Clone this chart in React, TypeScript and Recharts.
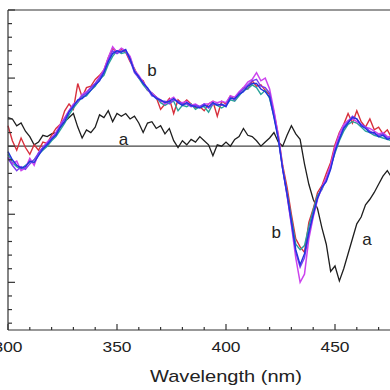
import React from "react";
import { LineChart, Line, XAxis, YAxis, ReferenceLine, ReferenceDot } from "recharts";

// wavelength grid, 300..480 nm every 2 nm
const wavelengths = Array.from({ length: 91 }, (_, i) => 300 + i * 2);

// curve a (black)
const curveA = [
  2.1, 2.0, 1.5, 1.7, 1.1, 0.7, 0.1, 0.3, 0.8, 0.7,
  0.9, 1.0, 1.4, 1.8, 2.1, 2.4, 1.4, 0.6, 1.2, 1.0,
  1.4, 2.3, 2.1, 2.6, 1.8, 2.4, 2.2, 2.4, 2.0, 2.2,
  1.7, 1.0, 1.7, 1.8, 1.3, 1.5, 0.9, 1.3, 0.4, -0.1,
  0.4, 0.1, 0.5, 0.3, 0.7, 0.4, 0.1, -0.7, 0.1, 0.0,
  0.3, 0.0, 0.5, 0.7, 1.3, 0.8, 0.7, 0.4, 0.0, 0.3,
  0.6, 1.0, 0.3, 0.0, 0.8, 1.5, 0.9, 0.5, -1.3, -2.8,
  -3.9, -4.6, -6.0, -7.2, -9.2, -8.8, -9.9, -9.0, -7.9, -6.8,
  -5.7, -5.2, -4.3, -3.9, -3.4, -2.8, -2.2, -1.8, -2.3, -1.9, -1.6,
];

// curve b, repeated runs
const curveBRed = [
  1.5, 0.4, -0.3, 0.6, -0.1, -0.6, 0.1, -0.3, 0.3, 0.2,
  0.8, 1.3, 1.6, 2.6, 3.1, 2.7, 4.6, 3.6, 4.3, 4.4,
  4.9, 5.2, 5.6, 6.5, 7.2, 6.9, 7.1, 6.9, 6.2, 5.7,
  5.0, 4.8, 4.1, 3.9, 3.6, 2.7, 3.1, 3.5, 2.4, 3.4,
  3.1, 3.4, 3.1, 2.8, 2.9, 2.6, 3.1, 3.3, 2.2, 3.3,
  3.1, 3.7, 3.4, 3.9, 4.3, 4.2, 4.8, 4.4, 4.5, 4.1,
  3.8, 2.5, 0.8, -1.4, -3.0, -5.0, -6.8, -7.4, -7.8, -5.6,
  -4.6, -3.4, -2.9, -2.0, -1.2, 0.1, 1.0, 1.6, 2.4, 1.7,
  2.6, 1.8, 1.4, 2.0, 1.2, 1.4, 0.9, 1.2, 0.6, 0.9, 0.7,
];
const curveBTeal = [
  -0.6, -1.2, -1.5, -1.7, -1.4, -1.2, -1.0, -0.6, -0.3, 0.0,
  0.4, 0.7, 1.2, 1.7, 2.3, 2.8, 3.2, 3.6, 3.7, 4.1,
  4.4, 4.9, 5.2, 6.0, 6.6, 7.0, 6.8, 6.9, 6.5, 5.6,
  5.0, 4.5, 4.1, 3.9, 3.6, 3.2, 3.0, 3.2, 3.3, 2.6,
  3.0, 2.9, 3.1, 2.7, 2.9, 2.9, 2.5, 3.1, 3.0, 2.8,
  3.0, 3.4, 3.3, 3.7, 4.1, 4.2, 4.5, 4.3, 3.8, 4.1,
  3.5, 2.2, 0.6, -1.6, -3.4, -5.3, -7.2, -7.6, -7.3, -5.9,
  -4.7, -3.6, -3.2, -2.4, -1.5, -0.5, 0.4, 1.1, 1.6, 1.8,
  1.7, 1.4, 1.1, 1.0, 0.8, 0.7, 0.6, 0.5, 0.4, 0.4, 0.3,
];
const curveBMagenta = [
  -0.8, -1.3, -1.1, -1.8, -1.6, -0.9, -1.4, -0.5, -0.1, 0.3,
  0.6, 1.0, 1.6, 2.1, 2.6, 3.1, 3.3, 3.8, 4.0, 4.3,
  4.6, 5.1, 5.6, 6.5, 7.3, 6.9, 7.2, 7.0, 6.6, 5.6,
  5.2, 4.7, 4.2, 3.9, 3.6, 3.4, 3.1, 3.4, 3.6, 3.2,
  3.2, 3.3, 3.0, 3.1, 2.9, 3.1, 3.1, 3.3, 3.2, 3.3,
  3.2, 3.7, 3.6, 4.0, 4.3, 4.7, 4.9, 5.4, 4.8, 5.0,
  4.2, 2.6, 0.8, -1.6, -3.6, -5.8, -8.2, -10.0, -9.4, -6.8,
  -5.2, -3.9, -3.0, -2.3, -1.4, -0.1, 0.9, 1.6, 1.9, 2.0,
  1.8, 1.6, 1.4, 1.3, 1.1, 0.9, 1.0, 0.7, 0.7, 0.5, 0.6,
];
const curveBViolet = [
  -0.9, -1.4, -1.8, -1.5, -1.7, -1.3, -1.0, -0.5, -0.1, 0.2,
  0.6, 0.9, 1.5, 2.0, 2.6, 3.0, 3.3, 3.7, 3.9, 4.3,
  4.6, 5.0, 5.5, 6.3, 7.0, 6.8, 7.0, 7.0, 6.3, 5.4,
  5.0, 4.7, 4.2, 3.7, 3.6, 3.3, 3.3, 3.1, 3.4, 3.3,
  3.1, 3.1, 2.9, 3.0, 2.9, 3.1, 2.8, 3.1, 3.1, 3.0,
  3.0, 3.6, 3.4, 3.9, 4.2, 4.5, 4.8, 4.9, 4.4, 4.3,
  3.9, 2.3, 0.6, -1.7, -3.6, -5.7, -7.8, -8.9, -8.2, -6.5,
  -5.1, -3.8, -3.1, -2.5, -1.6, -0.3, 0.6, 1.4, 1.8, 2.2,
  2.0, 1.6, 1.4, 1.1, 0.9, 0.8, 0.9, 0.6, 0.6, 0.5, 0.5,
];
const curveBBlue = [
  -0.4, -1.0, -1.4, -1.6, -1.5, -1.1, -1.2, -0.7, -0.2, 0.1,
  0.5, 0.8, 1.4, 1.8, 2.5, 2.9, 3.4, 3.5, 3.8, 4.1,
  4.5, 4.8, 5.4, 6.2, 6.8, 7.0, 6.9, 7.1, 6.4, 5.5,
  5.1, 4.6, 4.3, 3.8, 3.5, 3.4, 3.2, 3.3, 3.5, 3.2,
  3.0, 3.2, 3.0, 2.9, 2.8, 3.0, 2.9, 3.2, 3.0, 3.1,
  2.9, 3.5, 3.5, 3.8, 4.0, 4.4, 4.6, 4.6, 4.2, 4.0,
  3.6, 2.1, 0.5, -1.7, -3.5, -5.5, -7.6, -8.7, -7.9, -6.3,
  -5.0, -3.8, -3.0, -2.6, -1.7, -0.4, 0.5, 1.3, 1.7, 2.1,
  2.0, 1.5, 1.3, 1.0, 1.0, 0.7, 0.8, 0.5, 0.6, 0.4, 0.5,
];

const xTicks = Array.from({ length: 21 }, (_, i) => 300 + i * 10);
const xLabelled = [300, 350, 400, 450];
const yTicks = Array.from({ length: 24 }, (_, i) => -13 + i);

const data = wavelengths.map((w, i) => ({
  w,
  a: curveA[i],
  red: curveBRed[i],
  teal: curveBTeal[i],
  magenta: curveBMagenta[i],
  violet: curveBViolet[i],
  blue: curveBBlue[i],
}));

const FONT = "'Liberation Sans', Arial, sans-serif";
const AXIS = "#333";

function XTick(props: any) {
  const { x, y, payload } = props;
  const major = payload.value % 50 === 0;
  return (
    <g>
      <line x1={x} x2={x} y1={y} y2={y - (major ? 6 : 3)} stroke={AXIS} strokeWidth={1.2} />
      {xLabelled.includes(payload.value) && (
        <text x={x} y={y + 22} textAnchor="middle" fontSize={14} fill="#222" fontFamily={FONT}
          textLength={29} lengthAdjust="spacingAndGlyphs">
          {payload.value}
        </text>
      )}
    </g>
  );
}

function YTick(props: any) {
  const { x, y, payload } = props;
  const major = payload.value % 5 === 0;
  return <line x1={x} x2={x + (major ? 7 : 4)} y1={y} y2={y} stroke={AXIS} strokeWidth={1.2} />;
}

function XTitle(props: any) {
  const vb = props.viewBox || { x: 8, y: 330, width: 436 };
  return (
    <text x={vb.x + vb.width / 2} y={vb.y + 52} textAnchor="middle" fontSize={17} fill="#222"
      fontFamily={FONT} textLength={152} lengthAdjust="spacingAndGlyphs">
      Wavelength (nm)
    </text>
  );
}

const tagLabel = (v: string) => ({ value: v, position: "center" as const, fontSize: 17, fill: "#222", fontFamily: FONT });

export default function App() {
  return (
    <div style={{ position: "absolute", left: 0, top: 0, width: 390, height: 390, overflow: "hidden", background: "#fff" }}>
      <LineChart width={444} height={390} data={data} margin={{ top: 10, right: 0, left: 0, bottom: 0 }}>
        <XAxis dataKey="w" type="number" domain={[300, 500]} ticks={xTicks} interval={0}
          height={60} tickSize={0} tickMargin={0} tickLine={false} tick={<XTick />}
          stroke={AXIS} strokeWidth={1.2} label={{ content: <XTitle /> }} />
        <YAxis type="number" domain={[-13.5, 10]} ticks={yTicks} interval={0} width={8}
          tickSize={0} tickMargin={0} tickLine={false} tick={<YTick />} stroke={AXIS} strokeWidth={1.2} />
        <ReferenceLine y={10} stroke={AXIS} strokeWidth={1.2} />
        <ReferenceLine y={0} stroke="#444" strokeWidth={1.2} />
        <Line dataKey="a" stroke="#1e1e1e" strokeWidth={1.3} dot={false} isAnimationActive={false} />
        <Line dataKey="red" stroke="#d8303c" strokeWidth={1.4} dot={false} isAnimationActive={false} />
        <Line dataKey="teal" stroke="#2aa39a" strokeWidth={1.4} dot={false} isAnimationActive={false} />
        <Line dataKey="magenta" stroke="#cc44ee" strokeWidth={1.5} dot={false} isAnimationActive={false} />
        <Line dataKey="violet" stroke="#7a3cf0" strokeWidth={1.4} dot={false} isAnimationActive={false} />
        <Line dataKey="blue" stroke="#2233dd" strokeWidth={1.4} dot={false} isAnimationActive={false} />
        <ReferenceDot x={353} y={0.5} r={0} fill="none" stroke="none" label={tagLabel("a")} />
        <ReferenceDot x={464.7} y={-6.8} r={0} fill="none" stroke="none" label={tagLabel("a")} />
        <ReferenceDot x={366} y={5.6} r={0} fill="none" stroke="none" label={tagLabel("b")} />
        <ReferenceDot x={423} y={-6.3} r={0} fill="none" stroke="none" label={tagLabel("b")} />
      </LineChart>
    </div>
  );
}
